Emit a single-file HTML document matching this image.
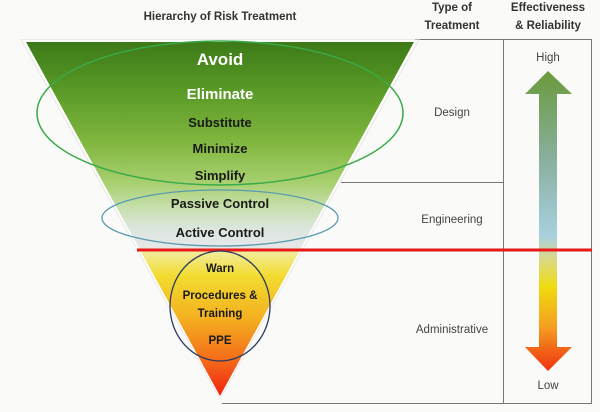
<!DOCTYPE html>
<html><head><meta charset="utf-8"><style>
html,body{margin:0;padding:0;background:#fafaf8;}
svg{display:block;font-family:"Liberation Sans",sans-serif;}
</style></head><body>
<svg width="600" height="412" viewBox="0 0 600 412" xmlns="http://www.w3.org/2000/svg">
<defs>
<linearGradient id="tri" x1="0" y1="42" x2="0" y2="396" gradientUnits="userSpaceOnUse">
<stop offset="0" stop-color="#3d7a18"/>
<stop offset="0.12" stop-color="#559624"/>
<stop offset="0.28" stop-color="#7fb63e"/>
<stop offset="0.4" stop-color="#a8d070"/>
<stop offset="0.47" stop-color="#c8e0b0"/>
<stop offset="0.53" stop-color="#dce6e0"/>
<stop offset="0.58" stop-color="#e6e8e8"/>
<stop offset="0.59" stop-color="#f2eca0"/>
<stop offset="0.66" stop-color="#f2dc30"/>
<stop offset="0.78" stop-color="#f4b020"/>
<stop offset="0.9" stop-color="#f46a18"/>
<stop offset="1" stop-color="#f02010"/>
</linearGradient>
<linearGradient id="arr" x1="0" y1="71" x2="0" y2="371" gradientUnits="userSpaceOnUse">
<stop offset="0" stop-color="#6a9a3a"/>
<stop offset="0.3" stop-color="#8ab0a0"/>
<stop offset="0.55" stop-color="#a8d0e0"/>
<stop offset="0.62" stop-color="#d8d890"/>
<stop offset="0.72" stop-color="#f0dc10"/>
<stop offset="0.85" stop-color="#f4a020"/>
<stop offset="1" stop-color="#f03010"/>
</linearGradient>
</defs>
<text x="220" y="20" font-size="11.5" font-weight="bold" fill="#333" text-anchor="middle">Hierarchy of Risk Treatment</text>
<text x="452" y="11" font-size="11.5" font-weight="bold" fill="#333" text-anchor="middle">Type of</text>
<text x="452" y="29" font-size="11.5" font-weight="bold" fill="#333" text-anchor="middle">Treatment</text>
<text x="548" y="11" font-size="11.5" font-weight="bold" fill="#333" text-anchor="middle">Effectiveness</text>
<text x="548" y="29" font-size="11.5" font-weight="bold" fill="#333" text-anchor="middle">&amp; Reliability</text>
<g stroke="#777" stroke-width="1" fill="none">
<line x1="415" y1="39.5" x2="592" y2="39.5"/>
<line x1="503.5" y1="39" x2="503.5" y2="403"/>
<line x1="591.5" y1="39" x2="591.5" y2="403"/>
<line x1="222" y1="403.5" x2="592" y2="403.5"/>
<line x1="341" y1="182.5" x2="503" y2="182.5"/>
</g>
<polygon points="20,39 420,39 220,400" fill="#ddd" opacity="0.6"/>
<polygon points="22,40 418,40 220,398" fill="#fff"/>
<polygon points="26,42 414,42 220,396" fill="url(#tri)"/>
<text x="452" y="116" font-size="11.5" fill="#444" text-anchor="middle">Design</text>
<text x="452" y="223" font-size="11.5" fill="#444" text-anchor="middle">Engineering</text>
<text x="452" y="333" font-size="11.5" fill="#444" text-anchor="middle">Administrative</text>
<text x="548" y="61" font-size="11.5" fill="#444" text-anchor="middle">High</text>
<text x="548" y="389" font-size="11.5" fill="#444" text-anchor="middle">Low</text>
<polygon points="548,71 572,94 557,94 557,347 572,347 548,371 525,347 539,347 539,94 525,94" fill="url(#arr)"/>
<line x1="137" y1="250" x2="592" y2="250" stroke="#e81818" stroke-width="3"/>
<g font-weight="bold" text-anchor="middle" fill="#1a1a1a" font-size="13">
<text x="220" y="65" font-size="17" fill="#fff">Avoid</text>
<text x="220" y="99" font-size="15" fill="#fff">Eliminate</text>
<text x="220" y="127">Substitute</text>
<text x="220" y="153">Minimize</text>
<text x="220" y="180">Simplify</text>
<text x="220" y="208">Passive Control</text>
<text x="220" y="237">Active Control</text>
<text x="220" y="272" font-size="11.5">Warn</text>
<text x="220" y="299" font-size="11.5">Procedures &amp;</text>
<text x="220" y="317" font-size="11.5">Training</text>
<text x="220" y="344" font-size="11.5">PPE</text>
</g>
<ellipse cx="220" cy="113" rx="183" ry="72" fill="none" stroke="#3aaa48" stroke-width="1.5"/>
<ellipse cx="220" cy="218" rx="118" ry="28" fill="none" stroke="#5a9ab0" stroke-width="1.3"/>
<ellipse cx="220" cy="306" rx="50" ry="55" fill="none" stroke="#2a3a60" stroke-width="1.3"/>
</svg>
</body></html>
